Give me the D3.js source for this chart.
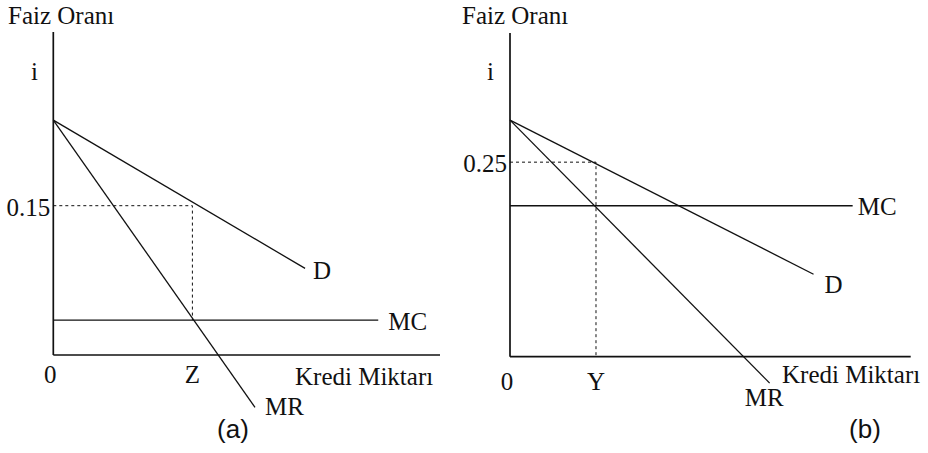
<!DOCTYPE html>
<html>
<head>
<meta charset="utf-8">
<style>
  body { margin: 0; background: #fff; }
  svg text { font-family: "Liberation Serif", "Times New Roman", serif; font-size: 25px; fill: #111; }
  svg text.panel { font-family: "Liberation Sans", Arial, sans-serif; font-size: 26px; }
</style>
</head>
<body>
<script src="https://cdn.jsdelivr.net/npm/d3@7/dist/d3.min.js"></script>
<script>

  // panel (a): quantity in units where Z = 100
  const demandA = [[0, 0.236], [181, 0.087]]
  const mrA = [[0, 0.236], [145, -0.0525]]
  const mcA = [[0, 0.035], [233.6, 0.035]]
  const eqA = {q: 100, i: 0.15, qLabel: 'Z', iLabel: '0.15'}

  // panel (b): quantity in units where Y = 100
  const demandB = [[0, 0.304], [353, 0.106]]
  const mrB = [[0, 0.304], [302, -0.034]]
  const mcB = [[0, 0.194], [398.5, 0.194]]
  const eqB = {q: 100, i: 0.25, qLabel: 'Y', iLabel: '0.25'}

  const width = 928, height = 453

  const svg = d3.select('body').append('svg')
      .attr('width', width)
      .attr('height', height)

  const panels = [
    {name: '(a)', D: demandA, MR: mrA, MC: mcA, eq: eqA, xMax: 278, yMax: 0.3245, dashToMC: true,
     left: 53.3, right: 440, bottom: 355, top: 32, titleX: 8, iX: 31, panelX: 233,
     off: {D: [8, 11], MR: [10, 8], MC: [10, 10], q: 28, kredi: [295, 385]}},
    {name: '(b)', D: demandB, MR: mrB, MC: mcB, eq: eqB, xMax: 466, yMax: 0.416, dashToMC: false,
     left: 510, right: 910.7, bottom: 356.7, top: 33, titleX: 462, iX: 487, panelX: 865,
     off: {D: [11, 19], MR: [-25, 23], MC: [5, 9], q: 33, kredi: [782, 383]}}
  ]

  panels.forEach(drawPanel)

  function drawPanel(p) {
    const x = d3.scaleLinear().domain([0, p.xMax]).range([p.left, p.right])
    const y = d3.scaleLinear().domain([0, p.yMax]).range([p.bottom, p.top])
    const line = d3.line().x(d => x(d[0])).y(d => y(d[1]))
    const g = svg.append('g')

    // axes
    g.append('line')
        .attr('x1', x(0)).attr('x2', x(0))
        .attr('y1', y(p.yMax)).attr('y2', y(0))
        .style('stroke', '#111').style('stroke-width', 1.7)
    g.append('line')
        .attr('x1', x(0)).attr('x2', x(p.xMax))
        .attr('y1', y(0)).attr('y2', y(0))
        .style('stroke', '#111').style('stroke-width', 1.7)

    // dashed guides
    const dEnd = p.dashToMC ? p.MC[0][1] : 0
    g.append('path')
        .attr('d', line([[0, p.eq.i], [p.eq.q, p.eq.i], [p.eq.q, dEnd]]))
        .style('fill', 'none').style('stroke', '#111')
        .style('stroke-width', 1).style('stroke-dasharray', '3,3')

    // curves
    ;[p.D, p.MR, p.MC].forEach(c => {
      g.append('path')
          .attr('d', line(c))
          .style('fill', 'none').style('stroke', '#111').style('stroke-width', 1.3)
    })

    // labels
    const lab = (tx, ty, s, anchor, cls) => g.append('text')
        .attr('x', tx).attr('y', ty)
        .attr('class', cls || null)
        .style('text-anchor', anchor || 'start')
        .text(s)

    lab(p.titleX, 24, 'Faiz Oranı')
    lab(p.iX, 80, 'i')
    lab(x(0) - 3, y(p.eq.i) + 10, p.eq.iLabel, 'end')
    lab(x(0) - 3, y(0) + p.off.q, '0', 'middle')
    lab(x(p.eq.q), y(0) + p.off.q, p.eq.qLabel, 'middle')

    const dLast = p.D[p.D.length - 1], mrLast = p.MR[p.MR.length - 1], mcLast = p.MC[p.MC.length - 1]
    lab(x(dLast[0]) + p.off.D[0], y(dLast[1]) + p.off.D[1], 'D')
    lab(x(mrLast[0]) + p.off.MR[0], y(mrLast[1]) + p.off.MR[1], 'MR')
    lab(x(mcLast[0]) + p.off.MC[0], y(mcLast[1]) + p.off.MC[1], 'MC')

    lab(p.off.kredi[0], p.off.kredi[1], 'Kredi Miktarı')

    lab(p.panelX, 438, p.name, 'middle', 'panel')
  }

</script>
</body>
</html>
